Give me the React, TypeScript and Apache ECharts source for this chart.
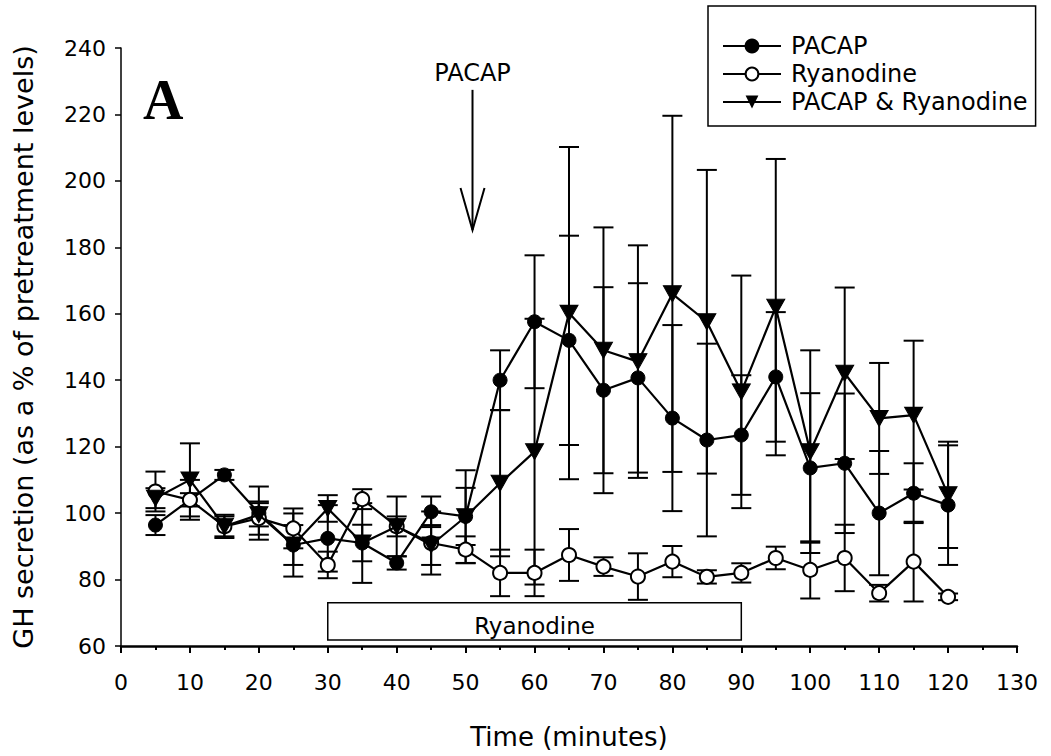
import React, { useEffect, useRef } from "react";
import * as echarts from "echarts";

const times = [5, 10, 15, 20, 25, 30, 35, 40, 45, 50, 55, 60, 65, 70, 75, 80, 85, 90, 95, 100, 105, 110, 115, 120];

const pacapMean = [96.4, 104, 111.5, 100, 90.4, 92.4, 91, 85, 100.4, 99, 140, 157.6, 152, 137, 140.7, 128.6, 122, 123.5, 141, 113.6, 115, 100, 106, 102.4];
const pacapErr = [3, 2, 1.5, 8, 6, 10, 5.5, 2, 4.6, 8.6, 9, 20, 31.5, 31, 28.5, 28, 29, 18, 19.5, 22.5, 21, 18.7, 9, 18];

const ryanMean = [106.5, 104, 96, 98.5, 95.4, 84.4, 104.2, 96, 91, 89, 82, 82, 87.4, 83.9, 80.9, 85.4, 80.8, 82, 86.5, 82.9, 86.5, 75.9, 85.4, 74.8];
const ryanErr = [6, 6, 3, 5, 6, 4, 3, 3, 9.5, 4, 7, 7, 7.8, 2.8, 7, 4.7, 2, 2.9, 3.4, 8.6, 10, 2.5, 12, 1];

const bothMean = [104.5, 110, 96, 99.5, 90.4, 101.4, 91, 96, 90.4, 98.9, 109, 118.5, 160.2, 149, 145.6, 166, 157.6, 136.5, 162, 118.5, 142.1, 128.5, 129.5, 105.5];
const bothErr = [3, 11, 3.5, 3.5, 9.5, 4, 12, 9, 6, 14, 22, 40, 50, 37, 35, 53.6, 45.7, 35, 44.6, 30.5, 25.8, 16.7, 22.4, 16];

const seriesNames = ["PACAP", "Ryanodine", "PACAP & Ryanodine"];

// treatment bar (time from / to, y from / to)
const ryanodineBar = [30, 90, 61.8, 73];
// PACAP injection arrow (time, top value, tip value)
const pacapArrow = [51, 227.4, 185.2];

const FONT = "DejaVu Sans";

function errSeries(id: string, mean: number[], err: number[]) {
  return {
    type: "custom",
    id,
    name: id,
    silent: true,
    z: 1,
    encode: { x: 0, y: [1, 2] },
    data: times.map((t, i) => [t, mean[i] - err[i], mean[i] + err[i]]),
    renderItem: (_params: any, api: any) => {
      const lo = api.coord([api.value(0), api.value(1)]);
      const hi = api.coord([api.value(0), api.value(2)]);
      const w = 10;
      const style = { stroke: "#000", lineWidth: 2 };
      return {
        type: "group",
        children: [
          { type: "line", shape: { x1: lo[0], y1: lo[1], x2: hi[0], y2: hi[1] }, style },
          { type: "line", shape: { x1: hi[0] - w, y1: hi[1], x2: hi[0] + w, y2: hi[1] }, style },
          { type: "line", shape: { x1: lo[0] - w, y1: lo[1], x2: lo[0] + w, y2: lo[1] }, style },
        ],
      };
    },
  };
}

export default function App() {
  const ref = useRef<HTMLDivElement>(null);
  useEffect(() => {
    const chart = echarts.init(ref.current!, null, { renderer: "svg" });
    const option: any = {
      animation: false,
      backgroundColor: "#fff",
      grid: { left: 121, right: 34, top: 48, bottom: 110 },
      xAxis: {
        type: "value",
        min: 0,
        max: 130,
        interval: 10,
        name: "Time (minutes)",
        nameLocation: "middle",
        nameGap: 78,
        nameTextStyle: { fontFamily: FONT, fontSize: 26, color: "#000" },
        axisLine: { lineStyle: { color: "#000", width: 2.5 } },
        axisTick: { show: true, length: 7, lineStyle: { color: "#000", width: 2 } },
        minorTick: { show: true, splitNumber: 2, length: 4, lineStyle: { color: "#000", width: 2 } },
        axisLabel: { fontFamily: FONT, fontSize: 22, color: "#000", margin: 25 },
        splitLine: { show: false },
      },
      yAxis: {
        type: "value",
        min: 60,
        max: 240,
        interval: 20,
        name: "GH secretion (as a % of pretreatment levels)",
        nameLocation: "middle",
        nameGap: 84,
        nameRotate: 90,
        nameTextStyle: { fontFamily: FONT, fontSize: 27, color: "#000" },
        axisLine: { show: true, lineStyle: { color: "#000", width: 1.5 } },
        axisTick: { show: true, length: 6, lineStyle: { color: "#000", width: 1.5 } },
        axisLabel: { fontFamily: FONT, fontSize: 22, color: "#000", margin: 15 },
        splitLine: { show: false },
      },
      legend: {
        data: seriesNames,
        orient: "vertical",
        left: 708,
        top: 6,
        itemWidth: 58,
        itemHeight: 16,
        itemGap: 4,
        padding: [28, 8, 12, 14],
        borderColor: "#000",
        borderWidth: 1.5,
        backgroundColor: "#fff",
        textStyle: { fontFamily: FONT, fontSize: 24, color: "#000", padding: [0, 0, 0, 5] },
      },
      graphic: [
        {
          type: "text",
          left: 143,
          top: 72,
          style: { text: "A", font: "bold 56px 'Liberation Serif'", fill: "#000" },
        },
      ],
      series: [
        errSeries("errPacap", pacapMean, pacapErr),
        errSeries("errRyan", ryanMean, ryanErr),
        errSeries("errBoth", bothMean, bothErr),
        {
          type: "line",
          name: "PACAP",
          data: times.map((t, i) => [t, pacapMean[i]]),
          symbol: "circle",
          symbolSize: 14,
          z: 2,
          itemStyle: { color: "#000", borderColor: "#000", borderWidth: 1 },
          lineStyle: { color: "#000", width: 2.2 },
          markArea: {
            silent: true,
            itemStyle: { color: "#fff", borderColor: "#000", borderWidth: 1.5 },
            label: { show: true, position: "inside", fontFamily: FONT, fontSize: 23, color: "#000", offset: [0, 5] },
            data: [
              [
                { name: "Ryanodine", xAxis: ryanodineBar[0], yAxis: ryanodineBar[2] },
                { xAxis: ryanodineBar[1], yAxis: ryanodineBar[3] },
              ],
            ],
          },
        },
        {
          type: "line",
          name: "Ryanodine",
          data: times.map((t, i) => [t, ryanMean[i]]),
          symbol: "circle",
          symbolSize: 14,
          z: 3,
          itemStyle: { color: "#fff", borderColor: "#000", borderWidth: 2 },
          lineStyle: { color: "#000", width: 2.2 },
        },
        {
          type: "line",
          name: "PACAP & Ryanodine",
          data: times.map((t, i) => [t, bothMean[i]]),
          symbol: "triangle",
          symbolRotate: 180,
          symbolSize: [18, 16],
          z: 4,
          itemStyle: { color: "#000", borderColor: "#000" },
          lineStyle: { color: "#000", width: 2.2 },
        },
        {
          type: "custom",
          id: "arrow",
          silent: true,
          z: 5,
          data: [pacapArrow],
          encode: { x: 0, y: [1, 2] },
          renderItem: (_params: any, api: any) => {
            const top = api.coord([api.value(0), api.value(1)]);
            const tip = api.coord([api.value(0), api.value(2)]);
            const style = { stroke: "#000", lineWidth: 2, fill: "none" };
            return {
              type: "group",
              children: [
                { type: "line", shape: { x1: top[0], y1: top[1], x2: tip[0], y2: tip[1] }, style },
                {
                  type: "polyline",
                  shape: { points: [[tip[0] - 12, tip[1] - 42], [tip[0], tip[1]], [tip[0] + 12, tip[1] - 42]] },
                  style,
                },
                {
                  type: "text",
                  style: {
                    text: "PACAP",
                    x: top[0],
                    y: top[1] - 5,
                    align: "center",
                    verticalAlign: "bottom",
                    fontFamily: FONT,
                    fontSize: 24,
                    fill: "#000",
                  },
                },
              ],
            };
          },
        },
      ],
    };
    chart.setOption(option);
    return () => chart.dispose();
  }, []);
  return <div ref={ref} style={{ position: "fixed", left: 0, top: 0, width: 1051, height: 756 }} />;
}
